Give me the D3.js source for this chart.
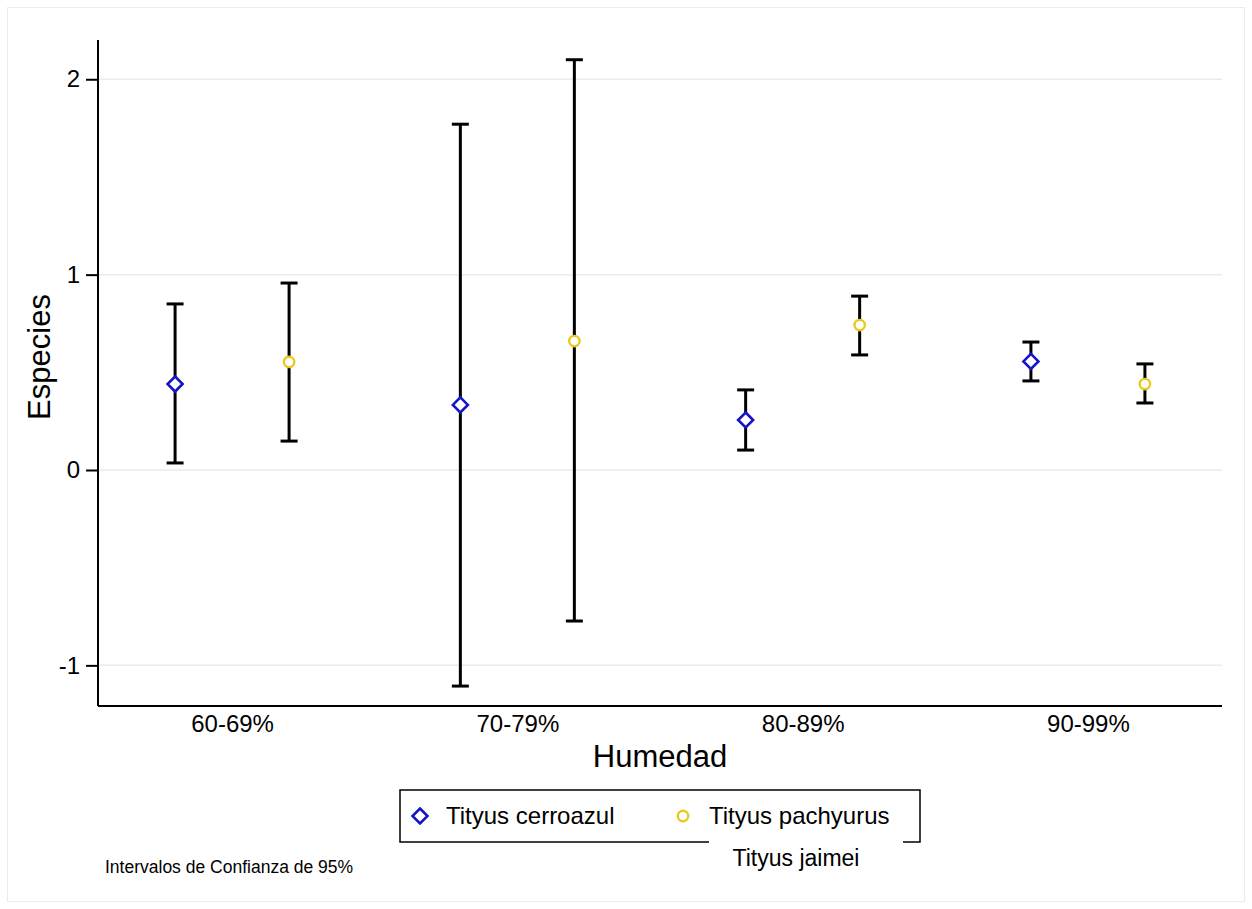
<!DOCTYPE html>
<html>
<head>
<meta charset="utf-8">
<script src="https://cdn.jsdelivr.net/npm/d3@7"></script>
<style>
  body { margin: 0; background: #fff; }
  svg { display: block; font-family: "Liberation Sans", Arial, sans-serif; }
</style>
</head>
<body>
<svg id="chart" width="1252" height="909"></svg>
<script>
// data
var categories = ["60-69%", "70-79%", "80-89%", "90-99%"];
var yTicks = [-1, 0, 1, 2];

var cerroazulMean = [0.44, 0.333, 0.256, 0.556];
var cerroazulLow = [0.036, -1.106, 0.102, 0.456];
var cerroazulHigh = [0.85, 1.77, 0.41, 0.655];

var pachyurusMean = [0.553, 0.66, 0.742, 0.44];
var pachyurusLow = [0.148, -0.773, 0.589, 0.343];
var pachyurusHigh = [0.957, 2.10, 0.89, 0.543];

var seriesNames = ["Tityus cerroazul", "Tityus pachyurus"];

(function () {
  var svg = d3.select("#chart"),
    pLeft = 98, pRight = 1222, pTop = 40, pBottom = 706;

  // faint outer frame
  svg.append("rect")
    .attr("x", 7.5).attr("y", 7.5)
    .attr("width", 1237).attr("height", 894)
    .attr("fill", "none").attr("stroke", "#ececec");

  var y = d3.scaleLinear().domain([-1.208, 2.201]).range([pBottom, pTop]);
  var x = d3.scalePoint().domain(categories).range([pLeft, pRight]).padding(0.47);
  var offset = d3.scalePoint().domain(seriesNames).range([-57, 57]);

  // grid
  svg.append("g").selectAll("line")
    .data(yTicks)
    .enter().append("line")
    .attr("x1", pLeft).attr("x2", pRight)
    .attr("y1", function (d) { return y(d); })
    .attr("y2", function (d) { return y(d); })
    .attr("stroke", "#e6eef0").attr("stroke-width", 1.5);

  // y axis (plain hyphen for negatives, like the original)
  var yAxis = svg.append("g")
    .attr("transform", "translate(" + pLeft + ",0)")
    .call(d3.axisLeft(y).tickValues(yTicks).tickSize(12).tickPadding(6)
      .tickFormat(function (d) { return String(d); }));
  yAxis.select(".domain").attr("stroke", "#000").attr("stroke-width", 2)
    .attr("d", "M0," + pTop + "V" + pBottom);
  yAxis.selectAll(".tick line").attr("stroke", "#000").attr("stroke-width", 2);
  yAxis.selectAll(".tick text").attr("font-size", 24).attr("fill", "#000")
    .attr("font-family", "Liberation Sans, Arial, sans-serif");

  // x axis
  var xAxis = svg.append("g")
    .attr("transform", "translate(0," + pBottom + ")")
    .call(d3.axisBottom(x).tickSize(0).tickPadding(9));
  xAxis.select(".domain").attr("stroke", "#000").attr("stroke-width", 2)
    .attr("d", "M" + pLeft + ",0H" + pRight);
  xAxis.selectAll(".tick text").attr("font-size", 24).attr("fill", "#000")
    .attr("font-family", "Liberation Sans, Arial, sans-serif");

  // axis titles
  svg.append("text")
    .attr("x", 660).attr("y", 767)
    .attr("text-anchor", "middle")
    .attr("font-size", 31)
    .text("Humedad");

  svg.append("text")
    .attr("transform", "translate(50,357) rotate(-90)")
    .attr("text-anchor", "middle")
    .attr("font-size", 31)
    .text("Especies");

  // error bars + markers
  var rows = [];
  categories.forEach(function (c, i) {
    rows.push({ cat: c, s: seriesNames[0], mean: cerroazulMean[i], lo: cerroazulLow[i], hi: cerroazulHigh[i] });
    rows.push({ cat: c, s: seriesNames[1], mean: pachyurusMean[i], lo: pachyurusLow[i], hi: pachyurusHigh[i] });
  });

  function px(d) { return x(d.cat) + offset(d.s); }

  var bars = svg.append("g").selectAll("g")
    .data(rows)
    .enter().append("g");

  bars.append("line")
    .attr("x1", px).attr("x2", px)
    .attr("y1", function (d) { return y(d.lo); })
    .attr("y2", function (d) { return y(d.hi); })
    .attr("stroke", "#000").attr("stroke-width", 3);

  ["hi", "lo"].forEach(function (k) {
    bars.append("line")
      .attr("x1", function (d) { return px(d) - 8.5; })
      .attr("x2", function (d) { return px(d) + 8.5; })
      .attr("y1", function (d) { return y(d[k]); })
      .attr("y2", function (d) { return y(d[k]); })
      .attr("stroke", "#000").attr("stroke-width", 3);
  });

  function marker(sel, name) {
    if (name === seriesNames[0]) {
      sel.append("path")
        .attr("d", "M0,-7.5L7.5,0L0,7.5L-7.5,0Z")
        .attr("fill", "#fff").attr("stroke", "#1414c8").attr("stroke-width", 2.6);
    } else {
      sel.append("circle")
        .attr("r", 5.2)
        .attr("fill", "#fff").attr("stroke", "#eac81e").attr("stroke-width", 2.4);
    }
  }

  bars.append("g")
    .attr("transform", function (d) { return "translate(" + px(d) + "," + y(d.mean) + ")"; })
    .each(function (d) { marker(d3.select(this), d.s); });

  // legend
  var lg = svg.append("g");
  lg.append("path")
    .attr("d", "M709,842H400V790H920V842H903")
    .attr("fill", "none").attr("stroke", "#000").attr("stroke-width", 1.5);

  var legendX = [420, 683];
  seriesNames.forEach(function (name, i) {
    var item = lg.append("g").attr("transform", "translate(" + legendX[i] + ",816)");
    marker(item, name);
    item.append("text")
      .attr("x", 26).attr("y", 8)
      .attr("font-size", 24)
      .text(name);
  });

  lg.append("text")
    .attr("x", 796).attr("y", 866)
    .attr("text-anchor", "middle")
    .attr("font-size", 23)
    .text("Tityus jaimei");

  svg.append("text")
    .attr("x", 105).attr("y", 873)
    .attr("font-size", 17.5)
    .text("Intervalos de Confianza de 95%");
})();
</script>
</body>
</html>
